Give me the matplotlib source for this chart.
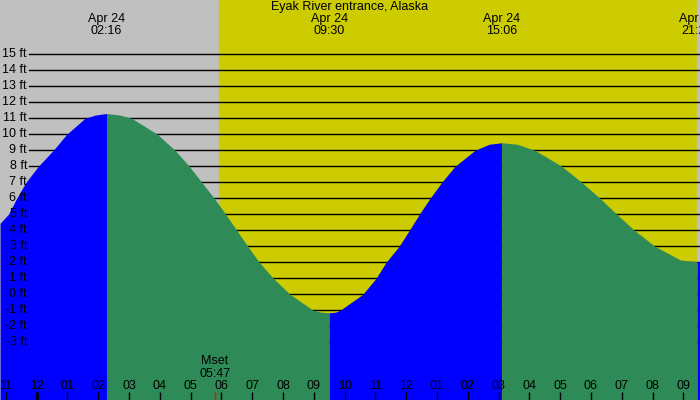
import numpy as np
from matplotlib import pyplot as plt
from matplotlib import transforms

plt.rcParams['font.family'] = ['Liberation Sans', 'DejaVu Sans']

title = "Eyak River entrance, Alaska"

# hours after midnight Apr 24, tide height in feet
tide_t = [-1.19, -0.92, -0.65, -0.35, 0.052, 0.539, 0.974, 1.569, 1.9, 2.267,
          2.7, 3.085, 3.917, 4.492, 4.956, 5.359, 5.768, 6.138, 6.496, 6.853,
          7.23, 7.684, 8.227, 8.983, 9.25, 9.5, 9.7, 9.85, 10.588, 11.02,
          11.345, 11.767, 12.101, 12.426, 12.774, 13.154, 13.586, 14.235, 14.7, 15.1,
          15.6, 16.18, 17.05, 17.7, 18.29, 18.84, 19.41, 20.08, 20.9, 21.45, 21.55]
tide_h = [4.44, 5, 6, 7, 8, 9, 10, 11, 11.2, 11.3,
          11.2, 11, 10, 9, 8, 7, 6, 5, 4, 3,
          2, 1, 0, -1, -1.12, -1.15, -1.12, -1, 0, 1,
          2, 3, 4, 5, 6, 7, 8, 9, 9.38, 9.47,
          9.38, 9, 8, 7, 6, 5, 4, 3, 2.15, 2.04, 2.05]

# high / low tides
ext_t = [2.267, 9.5, 15.1, 21.45]
ext_lbl = ["02:16", "09:30", "15:06", "21:27"]

sunrise = 5.92
sunset = 21.44
moonset = 5.783
moonset_lbl = "05:47"

hours = list(range(-1, 22))
feet = list(range(-3, 16))

x0, x1 = -1.192, 21.542
y0, y1 = -6.6, 18.39

fig = plt.figure(figsize=(7, 4), dpi=100)
ax = fig.add_axes([0, 0, 1, 1])
ax.set_xlim(x0, x1)
ax.set_ylim(y0, y1)
ax.axis("off")

ax.axvspan(x0, sunrise, color="#c0c0c0", zorder=0)
ax.axvspan(sunrise, sunset, color="#cccc00", zorder=0)
ax.axvspan(sunset, x1, color="#c0c0c0", zorder=0)

for f in feet:
    ax.axhline(f, xmin=29 / 700, xmax=1, color="black", lw=1.0, zorder=1)

t = np.array(tide_t)
h = np.array(tide_h)
bounds = [x0 - 1] + ext_t + [x1 + 1]
for i in range(len(bounds) - 1):
    m = (t >= bounds[i]) & (t <= bounds[i + 1])
    rising = i % 2 == 0
    ax.fill_between(t[m], h[m], y0 - 1, color="#0000ff" if rising else "#2e8b57",
                    lw=0, zorder=2)

ytr = transforms.blended_transform_factory(ax.transAxes, ax.transData)
for f in feet:
    ax.text(27 / 700, f, f"{f} ft", ha="right", va="center", fontsize=9, zorder=3,
            transform=ytr)

xtr = ax.get_xaxis_transform()
for hr in hours:
    lab = hr % 12
    if lab == 0:
        lab = 12
    ax.text(hr, 1 - 386 / 400, f"{lab:02d}", ha="center", va="center", fontsize=9,
            transform=xtr, zorder=3)
    ax.vlines(hr, 0, 8 / 400, color="black", lw=2.0 if hr % 24 == 0 else 1.0,
              transform=xtr, zorder=3)

ax.vlines(moonset, 0, 8 / 400, color="red", lw=1.0, transform=xtr, zorder=3)
ax.text(moonset, 1 - 361 / 400, "Mset", ha="center", va="center", fontsize=9,
        transform=xtr, zorder=3)
ax.text(moonset, 1 - 374 / 400, moonset_lbl, ha="center", va="center", fontsize=9,
        transform=xtr, zorder=3)

for et, el in zip(ext_t, ext_lbl):
    ax.text(et, 1 - 19 / 400, "Apr 24", ha="center", va="center", fontsize=9,
            transform=xtr, zorder=3)
    ax.text(et, 1 - 31 / 400, el, ha="center", va="center", fontsize=9,
            transform=xtr, zorder=3)

ax.text(0.5, 1 - 7 / 400, title, ha="center", va="center", fontsize=9,
        transform=ax.transAxes, zorder=3)

fig.savefig("out.png", dpi=100)
